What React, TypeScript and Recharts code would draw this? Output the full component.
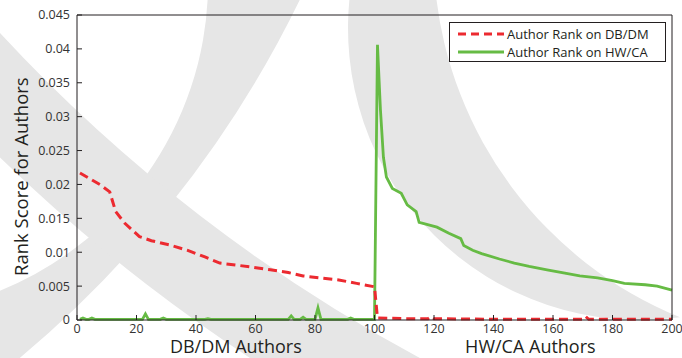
import { Legend, Line, LineChart, XAxis, YAxis } from "recharts";

const xTicks = [0, 20, 40, 60, 80, 100, 120, 140, 160, 180, 200];
const yTicks = [0, 0.005, 0.01, 0.015, 0.02, 0.025, 0.03, 0.035, 0.04, 0.045];

// DB/DM author rank (red dashed)
const dbAuthors = [1, 8, 11, 13, 16, 21, 25, 31, 37, 43, 48, 59, 65, 71, 76, 82, 88, 94, 100, 101, 110, 118, 119, 120, 140, 170, 171, 172, 200];
const dbScores = [0.0217, 0.0199, 0.0189, 0.016, 0.0143, 0.0123, 0.0117, 0.0111, 0.0103, 0.0093, 0.0084, 0.0078, 0.0074, 0.007, 0.0065, 0.0062, 0.0059, 0.0054, 0.0049, 0.0003, 0.0002, 0.0002, 0.0005, 0.0002, 0.0001, 0.0001, 0.0005, 0.0001, 0.0001];

// HW/CA author rank (green)
const hwAuthors = [1, 2, 3, 4, 5, 6, 22, 23, 24, 28, 29, 30, 43, 44, 45, 71, 72, 73, 75, 76, 77, 80, 81, 82, 91, 92, 93, 100, 101, 102, 103, 104, 106, 109, 111, 114, 115, 121, 125, 129, 130, 133, 136, 142, 147, 152, 158, 164, 169, 175, 180, 184, 191, 195, 200];
const hwScores = [0.0001, 0.0003, 0.0001, 0.0001, 0.0003, 0.0001, 0.0001, 0.0009, 0.0001, 0.0001, 0.0003, 0.0001, 0.0001, 0.0002, 0.0001, 0.0001, 0.0006, 0.0001, 0.0001, 0.0004, 0.0001, 0.0001, 0.0018, 0.0001, 0.0001, 0.0003, 0.0001, 0.0001, 0.0406, 0.031, 0.024, 0.0211, 0.0194, 0.0187, 0.017, 0.016, 0.0144, 0.0137, 0.0128, 0.012, 0.011, 0.0103, 0.0098, 0.009, 0.0084, 0.0079, 0.0074, 0.0069, 0.0065, 0.0062, 0.0058, 0.0054, 0.0052, 0.005, 0.0044];

const dbData = dbAuthors.map((author, i) => ({ author, score: dbScores[i] }));
const hwData = hwAuthors.map((author, i) => ({ author, score: hwScores[i] }));

const RED = "#ec2a30";
const GREEN = "#66bb44";
const INK = "#231f20";
const FONT = "'Open Sans', sans-serif";

const tickStyle = { fill: "#333", fontSize: 12.5, fontFamily: FONT };

const XTitles = (props: any) => {
  const { x, y, width } = props.viewBox;
  return (
    <g fontFamily={FONT} fontSize={18} fill="#231f20" textAnchor="middle">
      <text x={x + width * 0.267} y={y + 33}>DB/DM Authors</text>
      <text x={x + width * 0.762} y={y + 33}>HW/CA Authors</text>
    </g>
  );
};

const YTitle = (props: any) => {
  const { y, height } = props.viewBox;
  const cy = y + height * 0.53;
  return (
    <text
      x={21}
      y={cy}
      transform={`rotate(-90 21 ${cy})`}
      textAnchor="middle"
      dominantBaseline="central"
      fontFamily={FONT}
      fontSize={18.5}
      fill="#231f20"
    >
      Rank Score for Authors
    </text>
  );
};

const LegendBox = () => (
  <div
    style={{
      width: 217,
      height: 40,
      boxSizing: "border-box",
      border: `1px solid ${INK}`,
      background: "#fff",
      fontFamily: FONT,
      fontSize: 13,
      color: "#231f20",
      position: "relative",
    }}
  >
    <svg width={50} height={40} style={{ position: "absolute", left: 6, top: 0 }}>
      <line x1={2} x2={48} y1={11} y2={11} stroke={RED} strokeWidth={3} strokeDasharray="8 5" />
      <line x1={2} x2={48} y1={29} y2={29} stroke={GREEN} strokeWidth={3} />
    </svg>
    <div style={{ position: "absolute", left: 57, top: 2, lineHeight: "18px", whiteSpace: "nowrap" }}>Author Rank on DB/DM</div>
    <div style={{ position: "absolute", left: 57, top: 20, lineHeight: "18px", whiteSpace: "nowrap" }}>Author Rank on HW/CA</div>
  </div>
);

// light grey crescent watermark behind the plot
const Watermark = () => (
  <svg width={682} height={358} style={{ position: "absolute", left: 0, top: 0 }}>
    <g fill="#e6e6e6">
      <path d="M 208 -10 A 333 333 0 0 1 -10 294.5 L -10 382 A 1087 1087 0 0 0 304.5 -10 Z" />
      <path d="M 350.5 -10 A 292 292 0 0 0 680 317.3 A 395.5 395.5 0 0 1 435.4 -10 Z" />
    </g>
    <path d="M -60 31.5 A 1655.5 1655.5 0 0 0 445 420" fill="none" stroke="#e6e6e6" strokeWidth={87} />
  </svg>
);

export default function App() {
  return (
    <div style={{ position: "absolute", left: 0, top: 0, width: 682, height: 358, background: "#fff" }}>
      <Watermark />
      <div style={{ position: "absolute", left: 0, top: 0 }}>
        <LineChart width={682} height={358} margin={{ top: 14, right: 9, bottom: 0, left: 0 }}>
          <XAxis
            dataKey="author"
            type="number"
            domain={[0, 200]}
            ticks={xTicks}
            height={38}
            tickSize={-5}
            tickMargin={9}
            stroke={INK}
            tick={tickStyle}
            label={<XTitles />}
          />
          <XAxis
            xAxisId="top"
            orientation="top"
            type="number"
            domain={[0, 200]}
            ticks={xTicks}
            height={1}
            tickSize={-5}
            tickFormatter={() => ""}
            stroke={INK}
          />
          <YAxis
            type="number"
            domain={[0, 0.045]}
            ticks={yTicks}
            width={77}
            tickSize={-5}
            tickMargin={12}
            stroke={INK}
            tick={tickStyle}
            label={<YTitle />}
          />
          <YAxis
            yAxisId="right"
            orientation="right"
            type="number"
            domain={[0, 0.045]}
            ticks={yTicks}
            width={1}
            tickSize={-5}
            tickFormatter={() => ""}
            stroke={INK}
          />
          <Legend
            layout="horizontal"
            verticalAlign="middle"
            align="center"
            wrapperStyle={{ left: 449, top: 22, width: 217, height: 40 }}
            content={<LegendBox />}
          />
          <Line
            data={hwData}
            dataKey="score"
            type="linear"
            stroke={GREEN}
            strokeWidth={2.8}
            dot={false}
            activeDot={false}
            isAnimationActive={false}
          />
          <Line
            data={dbData}
            dataKey="score"
            type="linear"
            stroke={RED}
            strokeWidth={3}
            strokeDasharray="9 5"
            dot={false}
            activeDot={false}
            isAnimationActive={false}
          />
        </LineChart>
      </div>
    </div>
  );
}
